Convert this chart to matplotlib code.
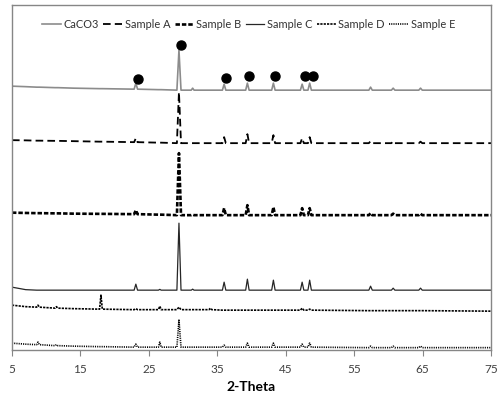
import matplotlib.pyplot as plt
import numpy as np

plt.rcParams['font.family'] = ['Lato', 'DejaVu Sans']
plt.rcParams['lines.scale_dashes'] = False

# 2-Theta grid (baseline knots + peak triples)
two_theta = [5, 7,
             8.6, 8.8, 9.0,
             11.3, 11.5, 11.7,
             14,
             17.8, 18.0, 18.2,
             22.85, 23.1, 23.35,
             26.4, 26.6, 26.8,
             29.1, 29.4, 29.7,
             31.2, 31.4, 31.6,
             33.8, 34.0, 34.2,
             35.75, 36.0, 36.25,
             39.15, 39.4, 39.65,
             42.95, 43.2, 43.45,
             47.15, 47.4, 47.65,
             48.25, 48.5, 48.75,
             57.15, 57.4, 57.65,
             60.45, 60.7, 60.95,
             64.45, 64.7, 64.95,
             75]

# intensities (offset, arbitrary units)
y_caco3 = [264, 263.5,
           263, 263, 263,
           262.5, 262.5, 262.5,
           262,
           261.5, 261.5, 261.5,
           261, 267, 261,
           260.5, 260.5, 260.5,
           260, 300, 260,
           260, 262, 260,
           260, 260, 260,
           260, 266, 260,
           260, 267, 260,
           260, 267, 260,
           260, 266, 260,
           260, 267, 260,
           260, 263, 260,
           260, 262, 260,
           260, 262, 260,
           260]

y_a = [210, 209.8,
       209.5, 209.5, 209.5,
       209.3, 209.3, 209.3,
       209,
       208.5, 208.5, 208.5,
       208, 212, 208,
       207.5, 207.5, 207.5,
       207, 258, 207,
       207, 207, 207,
       207, 207, 207,
       207, 213, 207,
       207, 216, 207,
       207, 215, 207,
       207, 212, 207,
       207, 213, 207,
       207, 209, 207,
       207, 209, 207,
       207, 208.5, 207,
       207]

y_b = [137.5, 137.2,
       137, 137, 137,
       136.8, 136.8, 136.8,
       136.5,
       136.3, 136.3, 136.3,
       136, 140, 136,
       135.5, 135.5, 135.5,
       135, 197, 135,
       135, 135.5, 135,
       135, 135, 135,
       135, 142, 135,
       135, 145, 135,
       135, 143, 135,
       135, 142, 135,
       135, 142, 135,
       135, 137, 135,
       135, 136.5, 135,
       135, 136.5, 135,
       135]

y_c = [63, 60.5,
       60, 60, 60,
       60, 60, 60,
       60,
       60, 60, 60,
       60, 66, 60,
       60, 60.8, 60,
       60, 127, 60,
       60, 61, 60,
       60, 60, 60,
       60, 68, 60,
       60, 71, 60,
       60, 70, 60,
       60, 68, 60,
       60, 70, 60,
       60, 64, 60,
       60, 62, 60,
       60, 62, 60,
       60]

y_d = [45, 43.5,
       43, 45, 43,
       42, 43.5, 42,
       41.5,
       41, 55, 41,
       40.5, 41.5, 40.5,
       40.5, 44, 40.5,
       40.5, 43, 40.5,
       40.5, 40.5, 40.5,
       40.5, 42, 40.5,
       40, 40, 40,
       40, 40, 40,
       40, 40, 40,
       40, 42, 40,
       40, 41, 40,
       39.5, 39.5, 39.5,
       39.5, 39.5, 39.5,
       39.5, 39.5, 39.5,
       39]

y_e = [7, 6,
       5.5, 8, 5.5,
       4.5, 5.5, 4.5,
       4,
       3.5, 3.5, 3.5,
       3, 6, 3,
       3, 8, 3,
       3, 30, 3,
       3, 3, 3,
       3, 3, 3,
       3, 5, 3,
       3, 7, 3,
       3, 7, 3,
       3, 6, 3,
       3, 7, 3,
       2.5, 4, 2.5,
       2.5, 4, 2.5,
       2.5, 4, 2.5,
       2.5]

# calcite peak markers
dot_x = [23.4, 29.7, 36.3, 39.6, 43.4, 47.8, 49.0]
dot_y = [271, 305, 272, 274.5, 274, 274, 274]

series_names = ['CaCO3', 'Sample A', 'Sample B', 'Sample C', 'Sample D', 'Sample E']
x_ticks = [5, 15, 25, 35, 45, 55, 65, 75]

fig = plt.figure(figsize=(4.99, 3.97), dpi=100)
ax = fig.add_axes([0.024, 0.118, 0.96, 0.869])

ax.plot(two_theta, y_caco3, color='#8c8c8c', lw=1.2, label=series_names[0])
ax.plot(two_theta, y_a, color='black', lw=1.3, dashes=(5.5, 3), label=series_names[1])
ax.plot(two_theta, y_b, color='black', lw=1.9, dashes=(3.2, 1.4), label=series_names[2])
ax.plot(two_theta, y_c, color='#262626', lw=0.9, label=series_names[3])
ax.plot(two_theta, y_d, color='black', lw=1.2, dashes=(1.6, 0.8), label=series_names[4])
ax.plot(two_theta, y_e, color='black', lw=1.2, dashes=(0.8, 0.8), label=series_names[5])

ax.plot(dot_x, dot_y, 'o', color='black', ms=6.5, zorder=5)

ax.set_xlim(5, 75)
ax.set_ylim(0, 345)
ax.set_xticks(x_ticks)
ax.set_yticks([])
ax.tick_params(axis='x', direction='out', length=4, color='#868686',
               labelsize=8.5, labelcolor='#404040', pad=6)
for s in ax.spines.values():
    s.set_color('#868686')
    s.set_linewidth(1)

ax.set_xlabel('2-Theta', fontsize=10, fontweight='bold', color='black', labelpad=4)

fig.legend(loc='upper center', bbox_to_anchor=(0.498, 0.978), ncol=6, frameon=False,
           fontsize=7.9, handlelength=1.7, handletextpad=0.25, columnspacing=0.4,
           labelcolor='#333333')

plt.savefig('out.png', dpi=100)
